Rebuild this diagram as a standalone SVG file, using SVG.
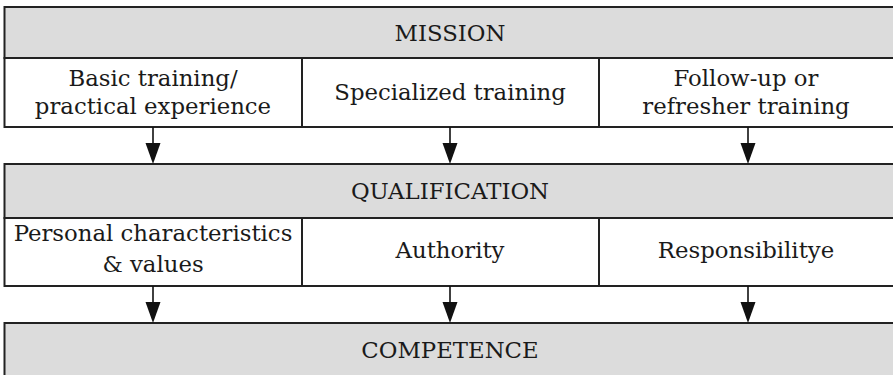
<svg xmlns="http://www.w3.org/2000/svg" width="893" height="375" viewBox="0 0 893 375">
<defs>
<style>
.band{fill:#dcdcdc;stroke:#222;stroke-width:2}
.cell{fill:#fff;stroke:#222;stroke-width:2}
.t{font-family:"DejaVu Serif","Liberation Serif",serif;font-size:22.8px;fill:#1a1a1a;text-anchor:middle}
.c{stroke:#111;stroke-width:1.6;fill:none}
.h{fill:#111}
</style>
</defs>
<rect width="893" height="375" fill="#fff"/>
<g id="mission"><rect class="band" x="4.5" y="7" width="900" height="51"/><text class="t" x="450" y="41">MISSION</text></g>
<g id="basic"><rect class="cell" x="4.5" y="58" width="297.5" height="69"/><text class="t" x="153" y="86">Basic training/</text><text class="t" x="153" y="114">practical experience</text></g>
<g id="specialized"><rect class="cell" x="302" y="58" width="297" height="69"/><text class="t" x="450" y="100">Specialized training</text></g>
<g id="followup"><rect class="cell" x="599" y="58" width="300" height="69"/><text class="t" x="746" y="86">Follow-up or</text><text class="t" x="746" y="114">refresher training</text></g>
<g id="qualification"><rect class="band" x="4.5" y="164" width="900" height="54"/><text class="t" x="450" y="199">QUALIFICATION</text></g>
<g id="personal"><rect class="cell" x="4.5" y="218" width="297.5" height="68"/><text class="t" x="153" y="241">Personal characteristics</text><text class="t" x="153" y="272">&amp; values</text></g>
<g id="authority"><rect class="cell" x="302" y="218" width="297" height="68"/><text class="t" x="450" y="258">Authority</text></g>
<g id="responsibility"><rect class="cell" x="599" y="218" width="300" height="68"/><text class="t" x="746" y="258">Responsibilitye</text></g>
<g id="competence"><rect class="band" x="4.5" y="323" width="900" height="60"/><text class="t" x="450" y="358">COMPETENCE</text></g>
<g id="connectors">
<line class="c" x1="153" y1="127" x2="153" y2="145"/><polygon class="h" points="145.5,143 160.5,143 153,164"/>
<line class="c" x1="450" y1="127" x2="450" y2="145"/><polygon class="h" points="442.5,143 457.5,143 450,164"/>
<line class="c" x1="748" y1="127" x2="748" y2="145"/><polygon class="h" points="740.5,143 755.5,143 748,164"/>
<line class="c" x1="153" y1="286" x2="153" y2="304"/><polygon class="h" points="145.5,302 160.5,302 153,323"/>
<line class="c" x1="450" y1="286" x2="450" y2="304"/><polygon class="h" points="442.5,302 457.5,302 450,323"/>
<line class="c" x1="748" y1="286" x2="748" y2="304"/><polygon class="h" points="740.5,302 755.5,302 748,323"/>
</g>
</svg>
